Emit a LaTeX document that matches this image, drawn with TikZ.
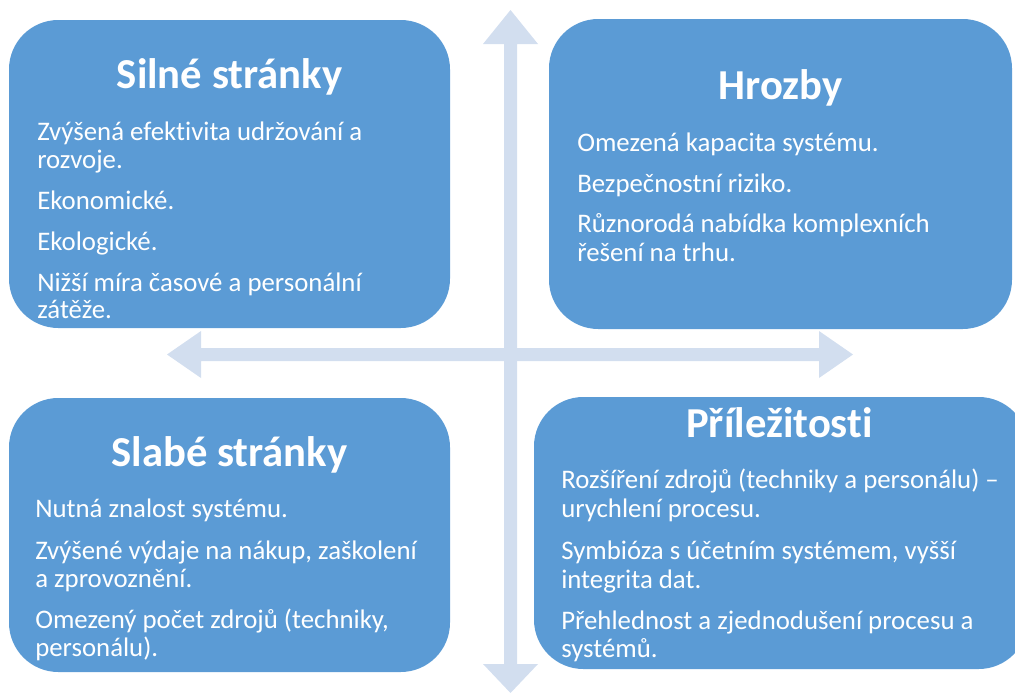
\documentclass[tikz,border=0pt]{standalone}
\usepackage{fontspec}
\setmainfont[Ligatures=NoCommon]{Carlito}
\usetikzlibrary{fit}
\definecolor{boxblue}{HTML}{5B9BD5}
\definecolor{arrowblue}{HTML}{D2DEEF}
\tikzset{
  quad/.style={fill=boxblue, draw=none, rounded corners=37pt, inner sep=0pt},
  heading/.style={anchor=base, text=white, font=\fontsize{32}{38}\selectfont\bfseries, inner sep=0pt},
  item/.style={anchor=base west, text=white, font=\fontsize{20.1}{24}\selectfont, inner sep=0pt},
  axis/.style={fill=arrowblue, draw=none}
}
\begin{document}
\begin{tikzpicture}[x=0.75pt, y=-0.75pt]
\useasboundingbox (0,0) rectangle (1015,693);

% axes: vertical and horizontal double-headed block arrows
\coordinate (vtop) at (510.5,10);
\coordinate (vbot) at (510.5,693);
\coordinate (hleft) at (167,354.5);
\coordinate (hright) at (853,354.5);
\fill[axis] (vtop) -- (538,44) -- (517,44) -- (517,664)
  -- (538,664) -- (vbot) -- (483,664) -- (504,664) -- (504,44) -- (483,44) -- cycle;
\fill[axis] (hleft) -- (201,331) -- (201,348) -- (819,348) -- (819,331) -- (hright)
  -- (819,378) -- (819,361) -- (201,361) -- (201,378) -- cycle;

% strengths
\node[quad, fit={(9,20) (450,328)}] (strong) {};
\node[heading] (strongT) at (229.5,88) {Silné stránky};
\node[item] (s1) at (37,140) {Zvýšená efektivita udržování a};
\node[item] (s2) at (37,168) {rozvoje.};
\node[item] (s3) at (37,209) {Ekonomické.};
\node[item] (s4) at (37,250) {Ekologické.};
\node[item] (s5) at (37,291) {Nižší míra časové a personální};
\node[item] (s6) at (37,318) {zátěže.};

% threats
\node[quad, fit={(549,19) (1012,329)}] (threat) {};
\node[heading] (threatT) at (780.5,99) {Hrozby};
\node[item] (t1) at (577,151) {Omezená kapacita systému.};
\node[item] (t2) at (577,192) {Bezpečnostní riziko.};
\node[item] (t3) at (577,232) {Různorodá nabídka komplexních};
\node[item] (t4) at (577,261) {řešení na trhu.};

% weaknesses
\node[quad, fit={(9,398) (450,672)}] (weak) {};
\node[heading] (weakT) at (229.5,466) {Slabé stránky};
\node[item] (w1) at (35,517) {Nutná znalost systému.};
\node[item] (w2) at (35,559) {Zvýšené výdaje na nákup, zaškolení};
\node[item] (w3) at (35,587) {a zprovoznění.};
\node[item] (w4) at (35,628) {Omezený počet zdrojů (techniky,};
\node[item] (w5) at (35,656) {personálu).};

% opportunities
\node[quad, fit={(534,397) (1028,669)}] (opp) {};
\node[heading] (oppT) at (779.5,437) {Příležitosti};
\node[item] (o1) at (561,488) {Rozšíření zdrojů (techniky a personálu) –};
\node[item] (o2) at (561,517) {urychlení procesu.};
\node[item] (o3) at (561,559) {Symbióza s účetním systémem, vyšší};
\node[item] (o4) at (561,588) {integrita dat.};
\node[item] (o5) at (561,629) {Přehlednost a zjednodušení procesu a};
\node[item] (o6) at (561,657) {systémů.};
\end{tikzpicture}
\end{document}
